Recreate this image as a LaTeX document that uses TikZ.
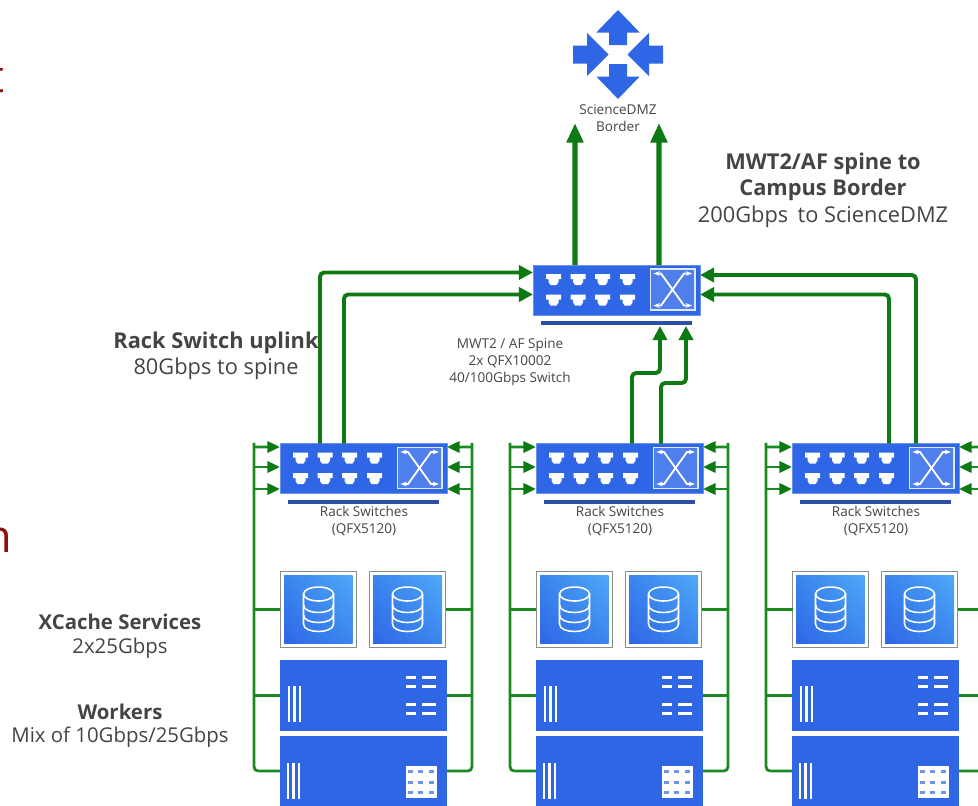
\documentclass[tikz,border=0pt]{standalone}
\usepackage{fontspec}
\setmainfont{Open Sans}
\usetikzlibrary{calc,arrows.meta,shadings}

\definecolor{iconblue}{HTML}{2F66E6}
\definecolor{crossblue}{HTML}{4F7FEA}
\definecolor{barblue}{HTML}{2C4FA6}
\definecolor{linkgreen}{HTML}{1C8A22}
\definecolor{tipgreen}{HTML}{0B7A12}
\definecolor{uplinkgreen}{HTML}{0F7A14}
\definecolor{labelgray}{HTML}{444444}
\definecolor{slidered}{HTML}{8B1010}
\definecolor{dblight}{HTML}{4FA8F8}
\definecolor{dbmid}{HTML}{3A86EE}

\tikzset{
    x=0.025cm, y=-0.025cm,
    swbox/.style={fill=iconblue, draw=iconblue!70!white, line width=0.3pt, inner sep=0, outer sep=0, minimum width=4.175cm, minimum height=1.25cm},
    dbbox/.style={fill=white, draw=black!45, line width=1.1pt, inner sep=0, outer sep=0, minimum width=1.9cm, minimum height=1.9cm},
    wrkbox/.style={fill=iconblue, inner sep=0, outer sep=0, minimum width=4.175cm, minimum height=1.77cm},
    white line/.style={draw=white, line width=1.8pt},
    rack link/.style={draw=linkgreen, line width=2pt, rounded corners=3pt},
    rack arrow/.style={rack link, -{Triangle[length=9pt, width=8pt, color=tipgreen]}},
    spine arrow/.style={draw=uplinkgreen, line width=2.8pt, rounded corners=3pt, -{Triangle[length=10pt, width=10pt, color=tipgreen]}},
    border arrow/.style={draw=uplinkgreen, line width=3.8pt, -{Triangle[length=14pt, width=11.5pt, color=tipgreen]}},
    small text/.style={text=labelgray, font=\fontsize{9.65}{12}\selectfont, align=center, inner sep=0},
    big text/.style={text=labelgray, font=\fontsize{15.5}{18.5}\selectfont, align=center, inner sep=0},
    head text/.style={text=labelgray, font=\fontsize{15.5}{18.5}\selectfont\bfseries, align=center, inner sep=0},
    left text/.style={text=labelgray, font=\fontsize{14.5}{18.5}\selectfont, align=center, inner sep=0},
    left head/.style={text=labelgray, font=\fontsize{14.5}{18.5}\selectfont\bfseries, align=center, inner sep=0},
    cut text/.style={text=slidered, font=\fontsize{32}{32}\selectfont, anchor=base east, inner sep=0},
}

\newcommand{\swicon}[2]{
    \begin{scope}[shift={(#1,#2)}]
        \foreach \cx in {20.5,45,69.5,94.5} {
            \foreach \cy in {9,29.5} {
                \fill[white] (\cx-7.5,\cy) -- (\cx+7.5,\cy) -- (\cx+7.5,\cy+5) -- (\cx+5,\cy+5) -- (\cx+5,\cy+8) -- (\cx+3,\cy+11) -- (\cx-3,\cy+11) -- (\cx-5,\cy+8) -- (\cx-5,\cy+5) -- (\cx-7.5,\cy+5) -- cycle;
            }
        }
        \draw[fill=crossblue, draw=white!85!iconblue, line width=0.9pt] (117.5,4) rectangle (162,45);
        \draw[white, line width=1.3pt, {Stealth[length=4.5pt]}-{Stealth[length=4.5pt]}] (120.5,8.5) -- (128,8.5) -- (151,40.5) -- (159,40.5);
        \draw[white, line width=1.3pt, {Stealth[length=4.5pt]}-{Stealth[length=4.5pt]}] (120.5,40.5) -- (128,40.5) -- (151,8.5) -- (159,8.5);
    \end{scope}
}

\newcommand{\dbicon}[2]{
    \begin{scope}[shift={(#1,#2)}]
        \draw[white, line width=1.1pt] (0,-15) ellipse [x radius=15, y radius=7];
        \draw[white, line width=1.1pt] (-15,-15) -- (-15,15) .. controls (-15,25) and (15,25) .. (15,15) -- (15,-15);
        \draw[white, line width=1.1pt] (-15,-4) .. controls (-15,6) and (15,6) .. (15,-4);
        \draw[white, line width=1.1pt] (-15,6) .. controls (-15,16) and (15,16) .. (15,6);
    \end{scope}
}

\begin{document}
\begin{tikzpicture}
        \useasboundingbox (0,0) rectangle (978,805);
        \clip (0,0) rectangle (978,805);

        \node[cut text] (cutt) at (5,92) {t};
        \node[cut text] (cutn) at (12,552) {n};

        \coordinate (bordermid) at (618,54.5);
        \fill[iconblue, shift={(bordermid)}] (0,-44.5) -- (21.7,-22) -- (9,-22) -- (9,-9.5) -- (-9,-9.5) -- (-9,-22) -- (-21.7,-22) -- cycle;
        \fill[iconblue, shift={(bordermid)}] (0,44.5) -- (21.7,22) -- (9,22) -- (9,9.5) -- (-9,9.5) -- (-9,22) -- (-21.7,22) -- cycle;
        \fill[iconblue, shift={(bordermid)}] (-9.5,0) -- (-31,-21.7) -- (-31,-9) -- (-45,-9) -- (-45,9) -- (-31,9) -- (-31,21.7) -- cycle;
        \fill[iconblue, shift={(bordermid)}] (9.5,0) -- (31,-21.7) -- (31,-9) -- (45,-9) -- (45,9) -- (31,9) -- (31,21.7) -- cycle;
        \node[small text] (bordertext) at (618,118.5) {ScienceDMZ\\Border};

        \node[swbox] (spine) at (616.5,290) {};
        \swicon{533}{265}
        \fill[barblue] (541,321) rectangle (692,325);

        \coordinate (topa) at (575,123);
        \coordinate (topb) at (659,123);
        \draw[border arrow] ($(spine.north west)+(42,0)$) -- (topa);
        \draw[border arrow] ($(spine.north west)+(126,0)$) -- (topb);

        \foreach \n/\x in {a/0,b/256,c/512} {
            \node[swbox] (sw\n) at (\x+363.5,468.5) {};
            \swicon{\x+280}{443.5}
            \fill[barblue] (\x+288,500) rectangle (\x+439,503.5);
            \node[small text] (swtext\n) at (\x+364,521) {Rack Switches\\(QFX5120)};

            \node[dbbox] (dbl\n) at (\x+318.5,609.5) {};
            \node[dbbox] (dbr\n) at (\x+407.5,609.5) {};
            \shade[lower left=iconblue, upper right=dblight, lower right=dbmid, upper left=dbmid] (\x+284,575) rectangle (\x+352.5,643.5);
            \shade[lower left=iconblue, upper right=dblight, lower right=dbmid, upper left=dbmid] (\x+373,575) rectangle (\x+442,643.5);
            \dbicon{\x+318.5}{609}
            \dbicon{\x+407.5}{609}

            \node[wrkbox] (wrka\n) at (\x+363.5,695.5) {};
            \node[wrkbox] (wrkb\n) at (\x+363.5,771) {};
            \foreach \bx in {0,5.5,11} {
                \draw[white line] (\x+289+\bx,686) -- (\x+289+\bx,722);
                \draw[white line] (\x+288+\bx,763) -- (\x+288+\bx,799);
            }
            \foreach \dy in {677.5,686.5,704.5,713.5} {
                \draw[white, line width=2.4pt] (\x+406,\dy) -- (\x+416,\dy);
                \draw[white, line width=2.4pt] (\x+422,\dy) -- (\x+436,\dy);
            }
            \fill[white] (\x+405.5,766) rectangle (\x+437,798);
            \foreach \gx in {410,420.5,431.5} {
                \foreach \gy in {771.5,782.5,792.5} {
                    \fill[iconblue!70!white] (\x+\gx-2.5,\gy-1.5) rectangle (\x+\gx+2.5,\gy+1.5);
                }
            }

            \coordinate (lbus\n) at (\x+254,447);
            \coordinate (rbus\n) at (\x+472,447);
            \coordinate (pla\n) at ($(sw\n.north west)+(0,3.5)$);
            \coordinate (plb\n) at ($(sw\n.north west)+(0,23.5)$);
            \coordinate (plc\n) at ($(sw\n.north west)+(0,45.5)$);
            \coordinate (pra\n) at ($(sw\n.north east)+(0,3.5)$);
            \coordinate (prb\n) at ($(sw\n.north east)+(0,23.5)$);
            \coordinate (prc\n) at ($(sw\n.north east)+(0,45.5)$);

            \draw[rack link] (wrkb\n.west) -| (lbus\n) -- (lbus\n |- pla\n);
            \draw[rack link] (wrkb\n.east) -| (rbus\n) -- (rbus\n |- pra\n);
            \draw[rack arrow] (lbus\n) -- (pla\n);
            \draw[rack arrow] (lbus\n |- plb\n) -- (plb\n);
            \draw[rack arrow] (lbus\n |- plc\n) -- (plc\n);
            \draw[rack arrow] (rbus\n) -- (pra\n);
            \draw[rack arrow] (rbus\n |- prb\n) -- (prb\n);
            \draw[rack arrow] (rbus\n |- prc\n) -- (prc\n);
            \draw[rack link] (dbl\n.west) -- (dbl\n.west -| lbus\n);
            \draw[rack link] (dbr\n.east) -- (dbr\n.east -| rbus\n);
            \draw[rack link] (wrka\n.west) -- (wrka\n.west -| lbus\n);
            \draw[rack link] (wrka\n.east) -- (wrka\n.east -| rbus\n);
        }

        \draw[spine arrow] ($(swa.north west)+(40,0)$) |- ($(spine.north west)+(0,7.5)$);
        \draw[spine arrow] ($(swa.north west)+(64,0)$) |- ($(spine.north west)+(0,29.5)$);
        \draw[spine arrow] ($(swc.north west)+(97,0)$) |- ($(spine.north east)+(0,29.5)$);
        \draw[spine arrow] ($(swc.north west)+(124,0)$) |- ($(spine.north east)+(0,10)$);
        \draw[spine arrow] ($(swb.north west)+(96,0)$) |- (646,373) -| (660,326);
        \draw[spine arrow] ($(swb.north west)+(125,0)$) |- (673,383) -| (686,326);

        \node[head text] (bordertitle) at (823,177) {MWT2/AF spine to\\Campus Border};
        \node[big text] (borderrate) at (823,217) {200Gbps\, to ScienceDMZ};
        \node[head text] (uplinktitle) at (216,343) {Rack Switch uplink};
        \node[big text] (uplinkrate) at (216,369) {80Gbps to spine};
        \node[small text] (spinetext) at (510,362) {MWT2 / AF Spine\\2x QFX10002\\40/100Gbps Switch};
        \node[left head] (xcachetitle) at (120,622) {XCache Services};
        \node[left text] (xcacherate) at (120,648) {2x25Gbps};
        \node[left head] (workertitle) at (120,712) {Workers};
        \node[left text] (workerrate) at (120,737) {Mix of 10Gbps/25Gbps};
    \end{tikzpicture}
\end{document}
